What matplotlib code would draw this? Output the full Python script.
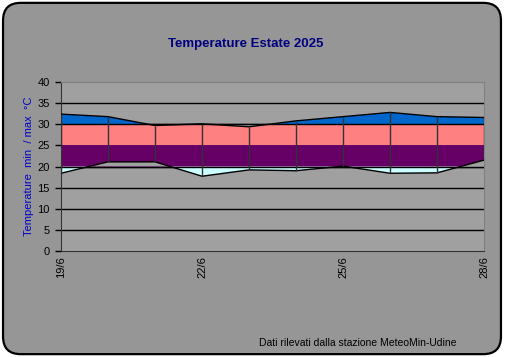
import numpy as np
import matplotlib
matplotlib.use("Agg")
import matplotlib.pyplot as plt
from matplotlib.patches import FancyBboxPatch

plt.rcParams['font.family'] = ['Liberation Sans', 'DejaVu Sans']

# letture giornaliere
giorni = ["19/6", "20/6", "21/6", "22/6", "23/6", "24/6", "25/6", "26/6", "27/6", "28/6"]
t_max = [32.4, 31.8, 29.7, 30.1, 29.4, 30.8, 31.8, 32.8, 31.8, 31.6]
t_min = [18.4, 21.1, 21.1, 17.7, 19.2, 19.0, 20.1, 18.4, 18.5, 21.5]
etichette = ["19/6", "22/6", "25/6", "28/6"]

bg = "#969696"
plotbg = "#a0a0a0"

fig = plt.figure(figsize=(5.05, 3.57), dpi=100)
fig.patch.set_facecolor("white")
box = FancyBboxPatch((0.006, 0.008), 0.986, 0.984, boxstyle="round,pad=0,rounding_size=0.035",
                     transform=fig.transFigure, facecolor=bg, edgecolor="black", lw=1.6,
                     mutation_aspect=505/357, zorder=-10)
fig.patches.append(box)

ax = fig.add_axes([0.1208, 0.2969, 0.8376, 0.4734])
ax.set_facecolor(plotbg)
x = np.arange(len(giorni))
mx = np.array(t_max)
mn = np.array(t_min)

for y in range(5, 40, 5):
    ax.axhline(y, color="black", lw=1.0, zorder=1)

ax.fill_between(x, 20, 25, color="#660066", lw=0, zorder=2)
ax.fill_between(x, 25, 30, color="#ff8080", lw=0, zorder=2)
ax.fill_between(x, 30, mx, where=mx > 30, interpolate=True, color="#0066cc", lw=0, zorder=2)
ax.fill_between(x, mn, 20, where=mn < 20, interpolate=True, color="#ccffff", lw=0, zorder=2)
# tolgo le bande dove max<30 o min>20
ax.fill_between(x, mx, 30, where=mx < 30, interpolate=True, color=plotbg, lw=0, zorder=3)
ax.fill_between(x, 20, mn, where=mn > 20, interpolate=True, color=plotbg, lw=0, zorder=3)
ax.axhline(20, color="black", lw=1.0, zorder=3.5)
ax.axhline(30, color="black", lw=1.0, zorder=3.5)

ax.plot(x, mx, color="black", lw=1.0, zorder=4)
ax.plot(x, mn, color="black", lw=1.0, zorder=4)
ax.vlines(x, mn, mx, color="#333333", lw=1.0, zorder=4)

ax.set_xlim(0, len(giorni) - 1)
ax.set_ylim(0, 40)
ax.set_yticks(range(0, 41, 5))
ax.set_xticks([giorni.index(g) for g in etichette])
ax.set_xticklabels(etichette, rotation=90, fontsize=8)
ax.tick_params(axis="y", labelsize=8, length=4, width=1, direction="out", pad=4)
ax.tick_params(axis="x", length=0, pad=4)
for s in ["left", "bottom"]:
    ax.spines[s].set_color("#333333")
for s in ["top", "right"]:
    ax.spines[s].set_color("#808080")

fig.text(0.487, 0.876, "Temperature Estate 2025", ha="center", va="center",
         fontsize=9.5, fontweight="bold", color="#000080")
fig.text(0.057, 0.535, "Temperature  min  / max  \u00b0C", rotation=90, ha="center", va="center",
         fontsize=8, color="#0000cc")
fig.text(0.708, 0.04, "Dati rilevati dalla stazione MeteoMin-Udine", ha="center", va="center",
         fontsize=7.5, color="black")

fig.savefig("out.png", dpi=100, facecolor=fig.get_facecolor())
